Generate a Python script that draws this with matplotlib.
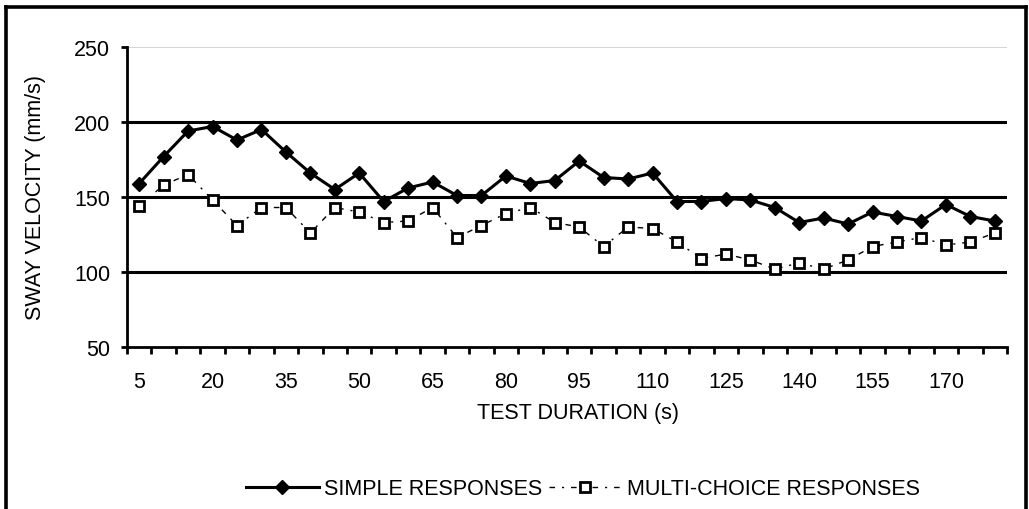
import matplotlib
matplotlib.use("Agg")
import matplotlib.pyplot as plt
from matplotlib.lines import Line2D
import numpy as np

plt.rcParams['font.family'] = ['Liberation Sans', 'DejaVu Sans']

# ---- data ----
durations = list(range(5, 181, 5))
simple = [159, 177, 194, 197, 188, 195, 180, 166, 155, 166, 147, 156,
          160, 151, 151, 164, 159, 161, 174, 163, 162, 166, 147, 147,
          149, 148, 143, 133, 136, 132, 140, 137, 134, 145, 137, 134]
multi = [144, 158, 165, 148, 131, 143, 143, 126, 143, 140, 133, 134,
         143, 123, 131, 139, 143, 133, 130, 117, 130, 129, 120, 109,
         112, 108, 102, 106, 102, 108, 117, 120, 123, 118, 120, 126]
y_ticks = [50, 100, 150, 200, 250]
x_label_every = 3
series_names = ["SIMPLE RESPONSES", "MULTI-CHOICE RESPONSES"]

FS = 15.5

fig = plt.figure(figsize=(10.29, 5.10), dpi=100)
ax = fig.add_axes([127/1029, (510-348)/510, 880/1029, 300/510])

x = np.arange(len(durations))

# grid lines
for yv in y_ticks[1:-1]:
    ax.axhline(yv, color='black', lw=2.2, zorder=1)
ax.axhline(y_ticks[-1], color='#cccccc', lw=1.2, zorder=1)

ax.plot(x, simple, color='black', lw=2.2, marker='D', markersize=7.5,
        markerfacecolor='black', markeredgecolor='black', zorder=4,
        label=series_names[0])
ax.plot(x, multi, color='black', lw=1.0, linestyle=(0, (4, 5, 1.5, 5)),
        marker='s', markersize=7.5, markerfacecolor='white',
        markeredgecolor='black', markeredgewidth=2.0, zorder=3,
        label=series_names[1])

ax.set_xlim(-0.5, len(durations) - 0.5)
ax.set_ylim(y_ticks[0], y_ticks[-1])

ax.set_yticks(y_ticks)
ax.set_yticklabels([str(v) for v in y_ticks], fontsize=FS)
ax.tick_params(axis='y', direction='out', length=4, width=2, pad=8)

lab_idx = x[::x_label_every]
ax.set_xticks(lab_idx)
ax.set_xticklabels([str(durations[i]) for i in lab_idx], fontsize=FS)
ax.set_xticks(np.arange(-0.5, len(durations)), minor=True)
ax.tick_params(axis='x', which='major', length=0, pad=17)
ax.tick_params(axis='x', which='minor', direction='out', length=5, width=2)

for s in ['top', 'right']:
    ax.spines[s].set_visible(False)
for s in ['left', 'bottom']:
    ax.spines[s].set_linewidth(2.0)
    ax.spines[s].set_color('black')

ax.set_xlabel("TEST DURATION (s)", fontsize=FS)
ax.xaxis.label.set_va('center')
ax.xaxis.set_label_coords(0.5125, (348-414)/300)
ax.set_ylabel("SWAY VELOCITY (mm/s)", fontsize=FS)
ax.yaxis.label.set_va('center')
ax.yaxis.set_label_coords((35-127)/880, 0.5)

fig.legend(loc='center', bbox_to_anchor=(583/1029, (510-490)/510),
           ncol=2, frameon=False, fontsize=FS, handlelength=3.4,
           handletextpad=0.25, columnspacing=0.3, borderpad=0)

# outer frame (left, top, right)
fx0, fx1, fy1 = 6/1029, 1026/1029, (510-8)/510
for xs, ys in [([fx0, fx0], [-0.05, fy1]), ([fx0, fx1], [fy1, fy1]),
               ([fx1, fx1], [fy1, -0.05])]:
    fig.add_artist(Line2D(xs, ys, color='black', lw=2.6,
                          transform=fig.transFigure, solid_capstyle='projecting'))

fig.savefig("out.png", dpi=100)
